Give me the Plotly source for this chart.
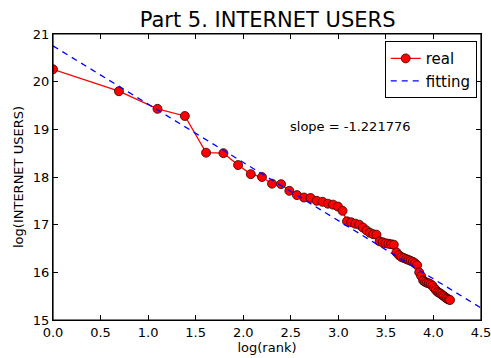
import numpy as np
import plotly.graph_objects as go

# Internet users by country rank (natural log scale)
ranks = list(range(1, 66))
log_users = [
    20.26, 19.80, 19.43, 19.28, 18.51, 18.50, 18.25, 18.06, 18.00, 17.86,
    17.85, 17.71, 17.62, 17.57, 17.56, 17.50, 17.48, 17.44, 17.42, 17.38,
    17.29, 17.07, 17.05, 17.02, 17.00, 16.94, 16.88, 16.83, 16.80, 16.79,
    16.65, 16.63, 16.61, 16.60, 16.59, 16.58, 16.42, 16.36, 16.32, 16.30,
    16.28, 16.26, 16.24, 16.22, 16.19, 16.15, 16.00, 15.92, 15.83, 15.80,
    15.78, 15.77, 15.75, 15.72, 15.67, 15.63, 15.59, 15.57, 15.55, 15.52,
    15.50, 15.47, 15.45, 15.43, 15.42,
]
fit_slope = -1.221776
fit_intercept = 20.75
fit_x = [0.0, 4.5]

log_rank = np.log(np.array(ranks, dtype=float))
fit_y = [fit_intercept + fit_slope * x for x in fit_x]

fig = go.Figure()
fig.add_trace(go.Scatter(
    x=log_rank, y=log_users, name="real", mode="lines+markers",
    line=dict(color="red", width=1.3),
    marker=dict(color="red", size=9, line=dict(color="#330000", width=0.8)),
))
fig.add_trace(go.Scatter(
    x=fit_x, y=fit_y, name="fitting", mode="lines",
    line=dict(color="blue", width=1.3, dash="6px,5px"),
))

fig.add_annotation(
    x=3.12, y=19.07, text="slope = -1.221776", showarrow=False,
    font=dict(size=13, color="black"),
)

# frame around the plotting area
fig.add_shape(type="rect", xref="paper", yref="paper", x0=0, x1=1, y0=0, y1=1,
              line=dict(color="black", width=1.2), layer="above")

axis_common = dict(
    showgrid=False, zeroline=False, showline=True, linecolor="black",
    linewidth=1, ticks="inside", ticklen=5, tickcolor="black",
    mirror="ticks", tickfont=dict(size=13, color="black"), automargin=False,
    ticklabeloverflow="allow",
)

fig.update_layout(
    width=491, height=358,
    margin=dict(l=53, r=10, t=34, b=38),
    paper_bgcolor="white", plot_bgcolor="white",
    font=dict(family="DejaVu Sans", color="black"),
    title=dict(text="Part 5. INTERNET USERS", x=0.545, xanchor="center",
               y=0.945, yanchor="middle", font=dict(size=21), automargin=False),
    xaxis=dict(range=[0, 4.5], dtick=0.5, tickformat=".1f",
               title=dict(text="log(rank)", font=dict(size=13), standoff=4),
               **axis_common),
    yaxis=dict(range=[15, 21], dtick=1,
               title=dict(text="log(INTERNET USERS)", font=dict(size=13), standoff=6),
               **axis_common),
    legend=dict(x=0.99, y=0.975, xanchor="right", yanchor="top",
                bgcolor="white", bordercolor="black", borderwidth=1,
                font=dict(size=15)),
    showlegend=True,
)

fig.write_html("out.html")
